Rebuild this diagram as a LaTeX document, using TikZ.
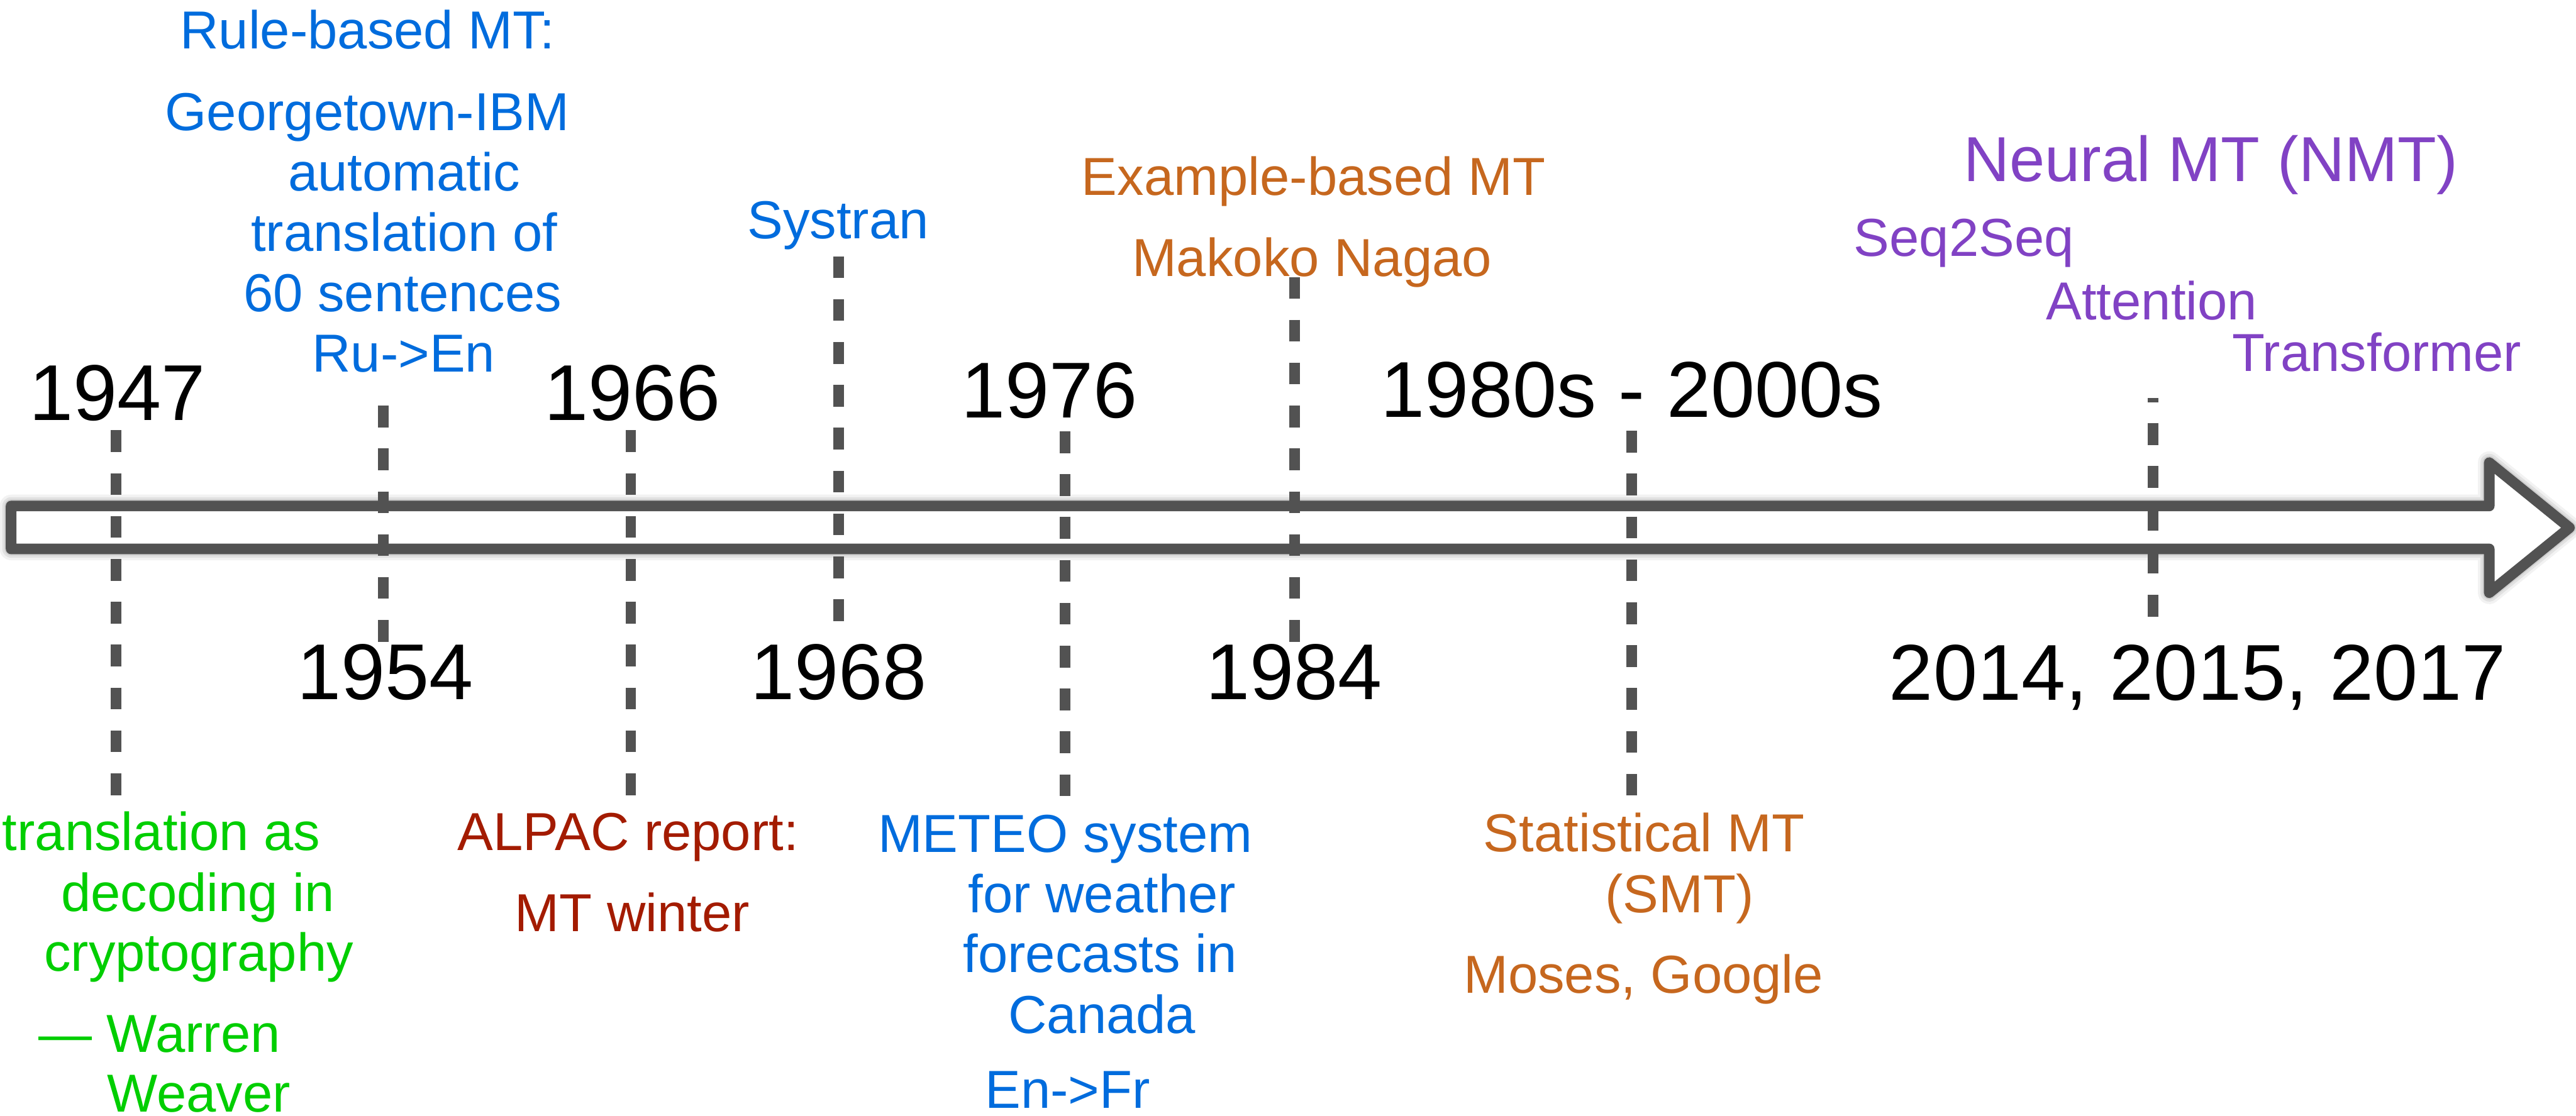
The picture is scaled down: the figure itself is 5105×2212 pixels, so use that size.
\documentclass[tikz,border=0pt]{standalone}
\usepackage{fontspec}
\setmainfont{Liberation Sans}
\definecolor{tlgray}{RGB}{82,82,82}
\definecolor{tlblue}{RGB}{0,108,221}
\definecolor{tlgreen}{RGB}{0,206,0}
\definecolor{tlred}{RGB}{163,27,0}
\definecolor{tlorange}{RGB}{198,103,30}
\definecolor{tlpurple}{RGB}{129,66,196}
\tikzset{
  lbl/.style={anchor=base, inner sep=0pt, outer sep=0pt},
  small/.style={lbl, font=\fontsize{10.6pt}{12pt}\selectfont},
  big/.style={lbl, font=\fontsize{12.6pt}{14pt}\selectfont},
  year/.style={lbl, font=\fontsize{15.7pt}{18pt}\selectfont, text=black},
  tick/.style={draw=tlgray, line width=2.1pt, dash pattern=on 4.3pt off 4.2pt},
  arrowline/.style={draw=tlgray, line width=2.1pt, line join=round, fill=white},
}
\begin{document}
\begin{tikzpicture}[x=0.1pt, y=-0.1pt]
\useasboundingbox (0,0) rectangle (5105,2212);

% timeline arrow corners
\coordinate (aTL) at (22,1003);
\coordinate (aBL) at (22,1088);
\coordinate (aBT) at (4933,1003);
\coordinate (aBB) at (4933,1088);
\coordinate (aHT) at (4933,917);
\coordinate (aHB) at (4933,1175);
\coordinate (aTip) at (5092,1046);

% soft shadow
\foreach \w/\o in {4.5pt/0.05,3.5pt/0.07,2.6pt/0.09}{
  \draw[draw=black, line width=\w, opacity=\o, line join=round, shift={(2,9)}]
    (aTL) -- (aBT) -- (aHT) -- (aTip) -- (aHB) -- (aBB) -- (aBL) -- cycle;
}
% arrow
\path[arrowline] (aTL) -- (aBT) -- (aHT) -- (aTip) -- (aHB) -- (aBB) -- (aBL) -- cycle;

% tick coordinates
\coordinate (d47a) at (229.5,853);  \coordinate (d47b) at (229.5,1579);
\coordinate (d54a) at (760,804);    \coordinate (d54b) at (760,1272);
\coordinate (d66a) at (1250,853);   \coordinate (d66b) at (1250,1579);
\coordinate (d68a) at (1662,508);   \coordinate (d68b) at (1662,1233);
\coordinate (d76a) at (2111,855);   \coordinate (d76b) at (2111,1579);
\coordinate (d84a) at (2566,549);   \coordinate (d84b) at (2566,1272);
\coordinate (d80a) at (3234,854);   \coordinate (d80b) at (3234,1579);
\coordinate (d14a) at (4267,789);   \coordinate (d14b) at (4267,1222);

\draw[tick] (d47a) -- (d47b);
\draw[tick] (d54a) -- (d54b);
\draw[tick] (d66a) -- (d66b);
\draw[tick] (d68a) -- (d68b);
\draw[tick] (d76a) -- (d76b);
\draw[tick] (d84a) -- (d84b);
\draw[tick] (d80a) -- (d80b);
\draw[tick] (d14b) -- (d14a);

% years
\node[year] (y1947) at (232,833) {1947};
\node[year] (y1954) at (763,1386) {1954};
\node[year] (y1966) at (1253,833) {1966};
\node[year] (y1968) at (1662,1387) {1968};
\node[year] (y1976) at (2079,828) {1976};
\node[year] (y1984) at (2564,1386) {1984};
\node[year] (y1980) at (3234,827) {1980s - 2000s};
\node[year] (y2014) at (4355,1388) {2014, 2015, 2017};

% rule-based MT (blue)
\node[small, text=tlblue] (rb1) at (728,96) {Rule-based MT:};
\node[small, text=tlblue] (rb2) at (728,258) {Georgetown-IBM};
\node[small, text=tlblue] (rb3) at (801,378) {automatic};
\node[small, text=tlblue] (rb4) at (801,498) {translation of};
\node[small, text=tlblue] (rb5) at (798,618) {60 sentences};
\node[small, text=tlblue] (rb6) at (800,737) {Ru->En};
\node[small, text=tlblue] (sys) at (1661,473) {Systran};
\node[small, text=tlblue] (me1) at (2111,1689) {METEO system};
\node[small, text=tlblue] (me2) at (2184,1809) {for weather};
\node[small, text=tlblue] (me3) at (2180,1928) {forecasts in};
\node[small, text=tlblue] (me4) at (2184,2048) {Canada};
\node[small, text=tlblue, text depth=0pt] (me5) at (2116,2197) {En->Fr};

% Weaver (green)
\node[small, text=tlgreen] (ww1) at (320,1685) {translation as};
\node[small, text=tlgreen] (ww2) at (392,1806) {decoding in};
\node[small, text=tlgreen] (ww3) at (394,1925) {cryptography};
\node[small, text=tlgreen] (ww4) at (316,2086) {— Warren};
\node[small, text=tlgreen, text depth=0pt] (ww5) at (394,2204) {Weaver};

% ALPAC (red)
\node[small, text=tlred] (al1) at (1245,1685) {ALPAC report:};
\node[small, text=tlred] (al2) at (1253,1846) {MT winter};

% orange
\node[small, text=tlorange] (eb1) at (2603,387) {Example-based MT};
\node[small, text=tlorange] (eb2) at (2600,548) {Makoko Nagao};
\node[small, text=tlorange] (sm1) at (3258,1688) {Statistical MT};
\node[small, text=tlorange] (sm2) at (3328,1809) {(SMT)};
\node[small, text=tlorange] (sm3) at (3257,1969) {Moses, Google};

% purple
\node[big, text=tlpurple] (nm1) at (4381,360) {Neural MT (NMT)};
\node[small, text=tlpurple] (nm2) at (3892,508) {Seq2Seq};
\node[small, text=tlpurple] (nm3) at (4264,634) {Attention};
\node[small, text=tlpurple] (nm4) at (4710,736) {Transformer};
\end{tikzpicture}
\end{document}
